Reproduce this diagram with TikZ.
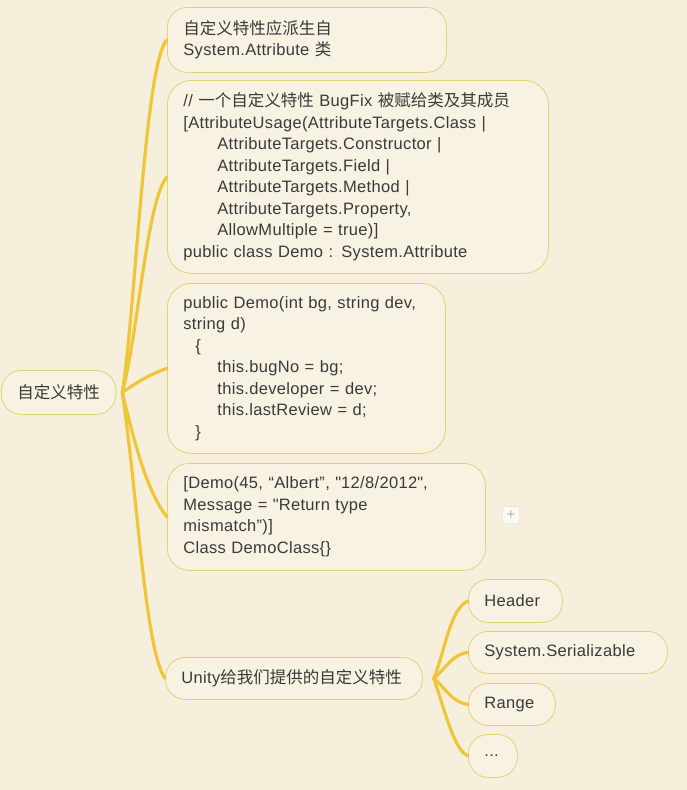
\documentclass[tikz,border=0pt]{standalone}
\usepackage{fontspec}
\usepackage{tikz}
\setmainfont{Liberation Sans}[LetterSpace=2]
\newfontfamily\cjk{Noto Sans CJK SC}
\definecolor{paper}{RGB}{246,239,220}
\definecolor{boxfill}{RGB}{248,242,226}
\definecolor{boxline}{RGB}{228,210,118}
\definecolor{twig}{RGB}{240,197,58}
\definecolor{ink}{RGB}{58,58,58}

\begin{document}
\begin{tikzpicture}[x=1pt,y=-1pt,
		topic/.style={draw=boxline, fill=boxfill, line width=.8pt, rounded corners=20pt, anchor=north west, inner xsep=16pt, inner ysep=0pt, align=left, text=ink, font=\fontsize{16.5}{21.5}\selectfont},
		branch/.style={draw=twig, line width=3.2pt, line cap=round},
		fold/.style={draw=black!15, fill=white!60!paper, rounded corners=2pt, minimum size=17pt, inner sep=0pt, text=black!30, font=\fontsize{15}{15}\selectfont}]
		
		\fill[paper] (0,0) rectangle (687,790);
		\useasboundingbox (0,0) rectangle (687,790);
		
		\node[topic, minimum width=114pt, minimum height=44pt] (root) at (1,370) {{\cjk 自定义特性}};
		
		\node[topic, text width=247pt, minimum height=65pt] (base) at (167,7) {{\cjk 自定义特性应派生自}\\System.Attribute {\cjk 类}};
		
		\node[topic, text width=349pt, minimum height=193pt, rounded corners=24pt] (usage) at (167,80) {// {\cjk 一个自定义特性} BugFix {\cjk 被赋给类及其成员}\\
			{[}AttributeUsage(AttributeTargets.Class |\\
			\hspace*{34pt}AttributeTargets.Constructor |\\
			\hspace*{34pt}AttributeTargets.Field |\\
			\hspace*{34pt}AttributeTargets.Method |\\
			\hspace*{34pt}AttributeTargets.Property,\\
			\hspace*{34pt}AllowMultiple = true)]\\
			public class Demo : System.Attribute};
		
		\node[topic, text width=246pt, minimum height=170pt, rounded corners=24pt] (ctor) at (167,283) {public Demo(int bg, string dev,\\
			string d)\\
			\hspace*{12pt}\{\\
			\hspace*{34pt}this.bugNo = bg;\\
			\hspace*{34pt}this.developer = dev;\\
			\hspace*{34pt}this.lastReview = d;\\
			\hspace*{12pt}\}};
		
		\node[topic, text width=286pt, minimum height=107pt, rounded corners=22pt] (apply) at (167,463) {{[}Demo(45, “Albert”, \textquotedbl 12/8/2012\textquotedbl,\\
			Message = \textquotedbl Return type\\
			mismatch”)]\\
			Class DemoClass\{\}};
		
		\node[fold] (fold) at (511,515) {+};
		
		\node[topic, text width=225pt, minimum height=42pt] (unity) at (165,657) {Unity{\cjk 给我们提供的自定义特性}};
		
		\node[topic, text width=62pt, minimum height=43pt] (header) at (468,579) {Header};
		\node[topic, text width=167pt, minimum height=42pt] (serial) at (468,631) {System.Serializable};
		\node[topic, text width=55pt, minimum height=42pt] (range) at (468,683) {Range};
		\node[topic, text width=17pt, minimum height=43pt] (more) at (468,734) {...};
		
		
		\draw[branch] ([xshift=6pt]root.east) .. controls +(14,-92) and +(-22,22) .. (base.west);
		\draw[branch] ([xshift=6pt]root.east) .. controls +(16,-60) and +(-20,22) .. (usage.west);
		\draw[branch] ([xshift=6pt]root.east) .. controls +(15,-10) and +(-18,6) .. (ctor.west);
		\draw[branch] ([xshift=6pt]root.east) .. controls +(12,50) and +(-20,-25) .. (apply.west);
		\draw[branch] ([xshift=6pt]root.east) .. controls +(16,110) and +(-20,-30) .. (unity.west);
		
		\draw[branch] ([xshift=11pt]unity.east) .. controls +(12,-30) and +(-18,8) .. (header.west);
		\draw[branch] ([xshift=11pt]unity.east) .. controls +(12,-10) and +(-16,2) .. (serial.west);
		\draw[branch] ([xshift=11pt]unity.east) .. controls +(12,10) and +(-16,-2) .. (range.west);
		\draw[branch] ([xshift=11pt]unity.east) .. controls +(12,35) and +(-14,-6) .. (more.west);
		
	\end{tikzpicture}
\end{document}
